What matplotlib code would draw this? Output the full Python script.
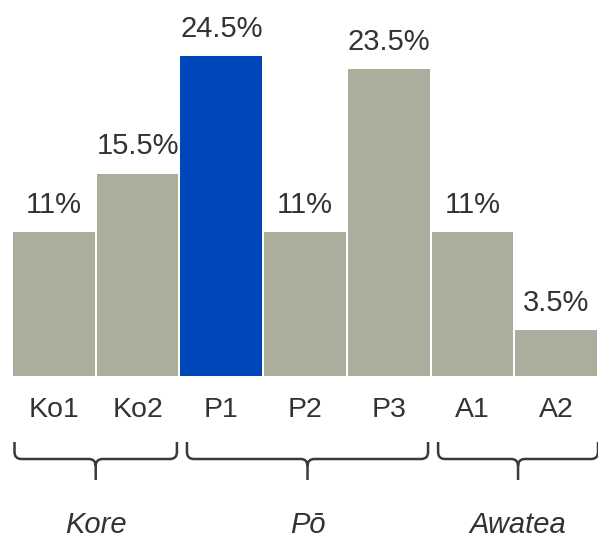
import matplotlib
matplotlib.use("Agg")
import matplotlib.pyplot as plt
from matplotlib.path import Path
from matplotlib.patches import PathPatch
from matplotlib.transforms import blended_transform_factory

plt.rcParams['font.family'] = ['Liberation Sans', 'DejaVu Sans']

# datos
etiquetas = ['Ko1', 'Ko2', 'P1', 'P2', 'P3', 'A1', 'A2']
valores = [11, 15.5, 24.5, 11, 23.5, 11, 3.5]
textos = ['11%', '15.5%', '24.5%', '11%', '23.5%', '11%', '3.5%']
grupos = ['Kore', 'Pō', 'Awatea']
grupo_inicio = [0, 2, 5]
grupo_fin = [1, 4, 6]
destacado = 2

gris = '#ACAD9D'
azul = '#0047BB'
texto_color = '#333333'

fig = plt.figure(figsize=(5.98, 5.39), dpi=100)
ax = fig.add_axes([12 / 598, 1 - 376 / 539, 586 / 598, 376 / 539])

x = list(range(len(valores)))
colores = [azul if i == destacado else gris for i in x]
barras = ax.bar(x, valores, width=0.975, color=colores, linewidth=0)

for b, t in zip(barras, textos):
    ax.annotate(t, (b.get_x() + b.get_width() / 2, b.get_height()),
                xytext=(0, 14), textcoords='offset points',
                ha='center', va='baseline', fontsize=21, color=texto_color)

ax.set_xlim(-0.5, 6.5)
ax.set_ylim(0, 28.8)
ax.set_xticks(x)
ax.set_xticklabels(etiquetas, fontsize=20.5, color=texto_color)
ax.tick_params(axis='x', length=0, pad=15)
ax.set_yticks([])
for s in ax.spines.values():
    s.set_visible(False)

# llaves bajo cada grupo (x en datos, y en ejes)
tr = blended_transform_factory(ax.transData, ax.transAxes)
px_x = 586 / 7
px_y = 376


def llave(x0, x1):
    xc = (x0 + x1) / 2
    r = 7 / px_x
    y_top = -66 / px_y
    y_mid = -83 / px_y
    y_curva = -76 / px_y
    y_punta = -90 / px_y
    y_fondo = -104 / px_y
    verts = [(x0, y_top), (x0, y_curva), (x0, y_mid), (x0 + r, y_mid),
             (xc - r, y_mid), (xc, y_mid), (xc, y_punta), (xc, y_fondo),
             (xc, y_punta), (xc, y_mid), (xc + r, y_mid),
             (x1 - r, y_mid), (x1, y_mid), (x1, y_curva), (x1, y_top)]
    codes = [Path.MOVETO, Path.LINETO, Path.CURVE3, Path.CURVE3,
             Path.LINETO, Path.CURVE3, Path.CURVE3, Path.LINETO,
             Path.MOVETO, Path.CURVE3, Path.CURVE3,
             Path.LINETO, Path.CURVE3, Path.CURVE3, Path.LINETO]
    p = PathPatch(Path(verts, codes), transform=tr, fill=False,
                  edgecolor='#3a3a3a', linewidth=1.8, clip_on=False,
                  capstyle='butt', joinstyle='round')
    ax.add_patch(p)
    return xc


for g, a, b in zip(grupos, grupo_inicio, grupo_fin):
    izq = a - 0.47 + (0.06 if a > 0 else 0)
    der = b + 0.5 - (0.0 if b == len(valores) - 1 else 0.03)
    xc = llave(izq, der)
    ax.text(xc, -157 / px_y, g, transform=tr, ha='center', va='baseline',
            fontsize=21, style='italic', color=texto_color)

fig.savefig('out.png', dpi=100)
